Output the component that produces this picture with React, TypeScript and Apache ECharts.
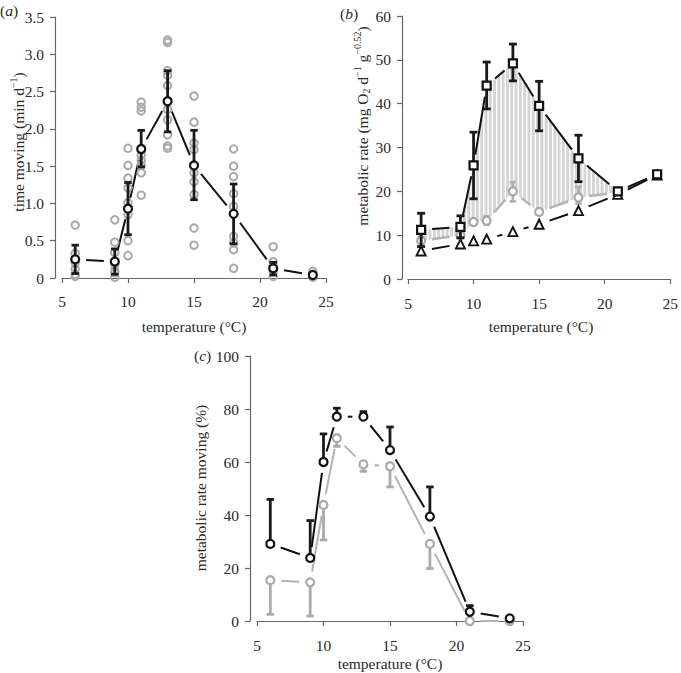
import React, { useEffect, useRef } from 'react';
import * as echarts from 'echarts';

// ---------- data ----------
const temps = [6, 9, 10, 11, 13, 15, 18, 21, 24];

// panel (a): time moving (min/d)
const moveMean = [0.25, 0.22, 0.93, 1.73, 2.37, 1.51, 0.86, 0.13, 0.04];
const moveLow = [0.06, 0.05, 0.58, 1.49, 1.96, 1.05, 0.46, 0.04, 0.02];
const moveHigh = [0.44, 0.39, 1.28, 1.98, 2.78, 1.98, 1.26, 0.21, 0.06];
const moveIndividuals: number[][] = [
  [0.71, 0.33, 0.2, 0.12, 0.05, 0.02],
  [0.78, 0.48, 0.34, 0.18, 0.1, 0.07, 0.01],
  [1.74, 1.51, 1.34, 1.21, 1.01, 0.94, 0.85, 0.5, 0.3],
  [2.36, 2.29, 2.24, 1.65, 1.57, 1.51, 1.41, 1.11],
  [3.19, 3.16, 2.78, 2.72, 2.58, 2.26, 2.12, 1.92, 1.77, 1.74],
  [2.44, 2.09, 1.81, 1.72, 1.41, 1.29, 1.12, 0.67, 0.44],
  [1.73, 1.5, 1.36, 1.13, 0.96, 0.56, 0.47, 0.38, 0.13],
  [0.42, 0.22, 0.16, 0.09, 0.02],
  [0.09, 0.04, 0.01],
];

// panel (b): metabolic rate
const mrTotal = [11.2, 11.9, 25.9, 44.1, 49.2, 39.5, 27.5, 20.0, 23.9];
const mrTotalLow = [7.4, 9.4, 18.3, 38.8, 45.2, 33.8, 22.2, 19.6, 23.6];
const mrTotalHigh = [15.0, 14.4, 33.5, 49.5, 53.6, 45.1, 32.8, 20.4, 24.2];
const mrNoMove = [8.7, 10.0, 13.0, 13.3, 20.0, 15.3, 18.6, 19.8, 23.8];
const mrNoMoveLow = [8.0, 9.4, 12.5, 12.4, 17.7, 14.7, 17.2, 19.4, 23.5];
const mrNoMoveHigh = [9.6, 10.6, 13.5, 14.3, 22.1, 15.9, 21.0, 20.2, 24.1];
const mrStandard = [6.4, 8.0, 8.7, 9.1, 10.8, 12.5, 15.6, 19.3, 23.7];

// panel (c): metabolic rate moving (%)
const pctBlack = [29.1, 23.8, 60.0, 77.1, 77.1, 64.5, 39.4, 3.5, 1.0];
const pctBlackHigh = [45.9, 37.9, 70.6, 80.3, 79.0, 73.2, 50.6, 5.8, 1.3];
const pctGray = [15.4, 14.6, 43.8, 69.0, 59.1, 58.4, 29.1, 0.0, 0.0];
const pctGrayLow = [2.5, 1.9, 30.6, 65.9, 56.5, 50.6, 19.8, 0.0, 0.0];

// ---------- styles ----------
const FONT = 'Liberation Serif';
const FS = 15.5;
const TXT = '#2a2a2a';
const AX = '#666';
const GRAY = '#a9a9a9';
const GAP = 11;

function errorBars(gi: number, xs: number[], lo: number[], hi: number[], color: string, width: number, capW: number, caps: 'both' | 'low' | 'high', z: number) {
  return {
    type: 'custom', xAxisIndex: gi, yAxisIndex: gi, z, silent: true,
    data: xs.map((x, i) => [x, lo[i], hi[i]]),
    encode: { x: 0, y: [1, 2] },
    renderItem: (_p: any, api: any) => {
      const x = api.value(0);
      const a = api.coord([x, api.value(1)]);
      const b = api.coord([x, api.value(2)]);
      const st = { stroke: color, lineWidth: width, lineCap: 'butt' };
      const ch: any[] = [{ type: 'line', shape: { x1: a[0], y1: a[1], x2: b[0], y2: b[1] }, style: st }];
      if (caps !== 'high') ch.push({ type: 'line', shape: { x1: a[0] - capW / 2, y1: a[1], x2: a[0] + capW / 2, y2: a[1] }, style: st });
      if (caps !== 'low') ch.push({ type: 'line', shape: { x1: b[0] - capW / 2, y1: b[1], x2: b[0] + capW / 2, y2: b[1] }, style: st });
      return { type: 'group', children: ch };
    },
  };
}

function gapLine(gi: number, xs: number[], ys: number[], color: string, width: number, gap: number, z: number) {
  const segs: number[][] = [];
  for (let i = 0; i < xs.length - 1; i++) segs.push([xs[i], ys[i], xs[i + 1], ys[i + 1]]);
  return {
    type: 'custom', xAxisIndex: gi, yAxisIndex: gi, z, silent: true,
    data: segs,
    encode: { x: [0, 2], y: [1, 3] },
    renderItem: (_p: any, api: any) => {
      const a = api.coord([api.value(0), api.value(1)]);
      const b = api.coord([api.value(2), api.value(3)]);
      const dx = b[0] - a[0], dy = b[1] - a[1];
      const len = Math.hypot(dx, dy);
      if (len <= 2 * gap + 0.5) return null;
      const ux = dx / len, uy = dy / len;
      return {
        type: 'line',
        shape: { x1: a[0] + ux * gap, y1: a[1] + uy * gap, x2: b[0] - ux * gap, y2: b[1] - uy * gap },
        style: { stroke: color, lineWidth: width },
      };
    },
  };
}

function points(gi: number, xs: number[], ys: number[], symbol: string, size: number, fill: string, border: string, bw: number, z: number) {
  return {
    type: 'scatter', xAxisIndex: gi, yAxisIndex: gi, z, silent: true,
    symbol, symbolSize: size,
    data: xs.map((x, i) => [x, ys[i]]),
    itemStyle: { color: fill, borderColor: border, borderWidth: bw, opacity: 1 },
  };
}

function shading(gi: number, z: number) {
  return {
    type: 'custom', xAxisIndex: gi, yAxisIndex: gi, z, silent: true,
    data: [[temps[0], mrTotal[0]]],
    encode: { x: 0, y: 1 },
    renderItem: (_p: any, api: any) => {
      const up = temps.map((t, i) => api.coord([t, mrTotal[i]]));
      const lo = temps.map((t, i) => api.coord([t, mrNoMove[i]]));
      const interp = (pts: number[][], x: number) => {
        for (let i = 0; i < pts.length - 1; i++) {
          if (x >= pts[i][0] && x <= pts[i + 1][0]) {
            const f = (x - pts[i][0]) / (pts[i + 1][0] - pts[i][0]);
            return pts[i][1] + f * (pts[i + 1][1] - pts[i][1]);
          }
        }
        return pts[pts.length - 1][1];
      };
      const ch: any[] = [{ type: 'polygon', shape: { points: up.concat(lo.slice().reverse()) }, style: { fill: '#d4d4d4' } }];
      for (let x = up[0][0] + 2.5; x < up[up.length - 1][0]; x += 4.3) {
        ch.push({ type: 'line', shape: { x1: x, y1: interp(up, x) - 1, x2: x, y2: interp(lo, x) + 1 }, style: { stroke: '#ffffff', lineWidth: 1.4 } });
      }
      return { type: 'group', children: ch };
    },
  };
}

function xAxisCfg(gi: number, offset: number) {
  return {
    type: 'value', gridIndex: gi, min: 5, max: 25, interval: 5, offset,
    axisLine: { show: true, lineStyle: { color: AX, width: 1.2 } },
    axisTick: { show: true, length: 5, lineStyle: { color: AX, width: 1.2 } },
    axisLabel: { color: TXT, fontFamily: FONT, fontSize: FS, margin: 8 },
    splitLine: { show: false },
  };
}

function yAxisCfg(gi: number, offset: number, max: number, interval: number, fmt?: (v: number) => string) {
  return {
    type: 'value', gridIndex: gi, min: 0, max, interval, offset,
    axisLine: { show: true, lineStyle: { color: AX, width: 1.2 } },
    axisTick: { show: true, length: 5, lineStyle: { color: AX, width: 1.2 } },
    axisLabel: { color: TXT, fontFamily: FONT, fontSize: FS, margin: 11, formatter: fmt },
    splitLine: { show: false },
  };
}

const richBase = {
  n: { fontSize: FS, fontFamily: FONT, fill: TXT, lineHeight: 19 },
  sup: { fontSize: 10, fontFamily: FONT, fill: TXT, lineHeight: 11, verticalAlign: 'top' },
  sub: { fontSize: 10, fontFamily: FONT, fill: TXT, lineHeight: 11, verticalAlign: 'bottom' },
  i: { fontSize: FS, fontFamily: FONT, fill: TXT, fontStyle: 'italic', lineHeight: 19 },
};

function vText(x: number, y: number, text: string) {
  return {
    type: 'text', x, y, rotation: Math.PI / 2, silent: true,
    style: { text, rich: richBase, align: 'center', verticalAlign: 'middle', fontSize: FS, fontFamily: FONT, fill: TXT },
  };
}
function hText(x: number, y: number, text: string, align = 'center') {
  return {
    type: 'text', x, y, silent: true,
    style: { text, rich: richBase, align, verticalAlign: 'middle', fontSize: FS, fontFamily: FONT, fill: TXT },
  };
}

const indivData: number[][] = [];
moveIndividuals.forEach((vals, i) => vals.forEach((v) => indivData.push([temps[i], v])));

const option: any = {
  animation: false,
  backgroundColor: '#ffffff',
  grid: [
    { left: 62, top: 17, width: 264, height: 261 },
    { left: 408, top: 16, width: 266, height: 263 },
    { left: 257, top: 356, width: 266, height: 265 },
  ],
  xAxis: [xAxisCfg(0, 7), xAxisCfg(1, 8), xAxisCfg(2, 8)],
  yAxis: [
    yAxisCfg(0, 7, 3.5, 0.5, (v: number) => (v === 0 ? '0' : v.toFixed(1))),
    yAxisCfg(1, 6, 60, 10),
    yAxisCfg(2, 7, 100, 20),
  ],
  graphic: [
    hText(0, 10, '{n|(}{i|a}{n|)}', 'left'),
    hText(340, 13, '{n|(}{i|b}{n|)}', 'left'),
    hText(194, 355, '{n|(}{i|c}{n|)}', 'left'),
    vText(18, 142, '{n|time moving (min d}{sup|−1}{n|)}'),
    vText(362, 126, '{n|metabolic rate (mg O}{sub|2}{n| d}{sup|−1}{n| g}{sup|−0.52}{n|)}'),
    vText(200, 488, '{n|metabolic rate moving (%)}'),
    hText(194, 326, '{n|temperature (°C)}'),
    hText(541, 326, '{n|temperature (°C)}'),
    hText(390, 663, '{n|temperature (°C)}'),
  ],
  series: [
    // panel a
    gapLine(0, temps, moveMean, '#111', 2, GAP, 2),
    {
      type: 'scatter', xAxisIndex: 0, yAxisIndex: 0, z: 3, silent: true,
      symbol: 'circle', symbolSize: 7.5, data: indivData,
      itemStyle: { color: 'rgba(255,255,255,0)', borderColor: GRAY, borderWidth: 2, opacity: 1 },
    },
    errorBars(0, temps, moveLow, moveHigh, '#1a1a1a', 2.8, 7.5, 'both', 4),
    points(0, temps, moveMean, 'circle', 8, '#ffffff', '#111', 2.2, 5),

    // panel b
    shading(1, 1),
    gapLine(1, temps, mrNoMove, '#b3b3b3', 2.5, GAP, 2),
    gapLine(1, temps, mrStandard, '#111', 2, GAP, 2),
    gapLine(1, temps, mrTotal, '#111', 2, GAP, 2),
    errorBars(1, temps, mrNoMoveLow, mrNoMoveHigh, '#b0b0b0', 2.7, 6.5, 'both', 3),
    points(1, temps, mrNoMove, 'circle', 8, '#ffffff', '#a9a9a9', 2.2, 4),
    points(1, temps, mrStandard, 'triangle', 9, '#ffffff', '#111', 1.9, 5),
    errorBars(1, temps, mrTotalLow, mrTotalHigh, '#1a1a1a', 2.8, 8, 'both', 6),
    points(1, temps, mrTotal, 'rect', 8, '#ffffff', '#111', 2.2, 7),

    // panel c
    gapLine(2, temps, pctGray, '#b3b3b3', 2, GAP, 2),
    gapLine(2, temps, pctBlack, '#111', 2, GAP, 2),
    errorBars(2, temps, pctGrayLow, pctGray, '#aaaaaa', 2.8, 7.5, 'low', 3),
    errorBars(2, temps, pctBlack, pctBlackHigh, '#1a1a1a', 2.8, 7.5, 'high', 3),
    points(2, temps, pctGray, 'circle', 8, '#ffffff', '#aaaaaa', 2.2, 4),
    points(2, temps, pctBlack, 'circle', 8, '#ffffff', '#111', 2.2, 5),
  ],
};

export default function App() {
  const ref = useRef<HTMLDivElement>(null);
  useEffect(() => {
    if (!ref.current) return;
    const chart = echarts.init(ref.current, null, { renderer: 'svg' });
    chart.setOption(option);
    return () => chart.dispose();
  }, []);
  return <div ref={ref} style={{ position: 'absolute', left: 0, top: 0, width: 681, height: 673, background: '#fff' }} />;
}
